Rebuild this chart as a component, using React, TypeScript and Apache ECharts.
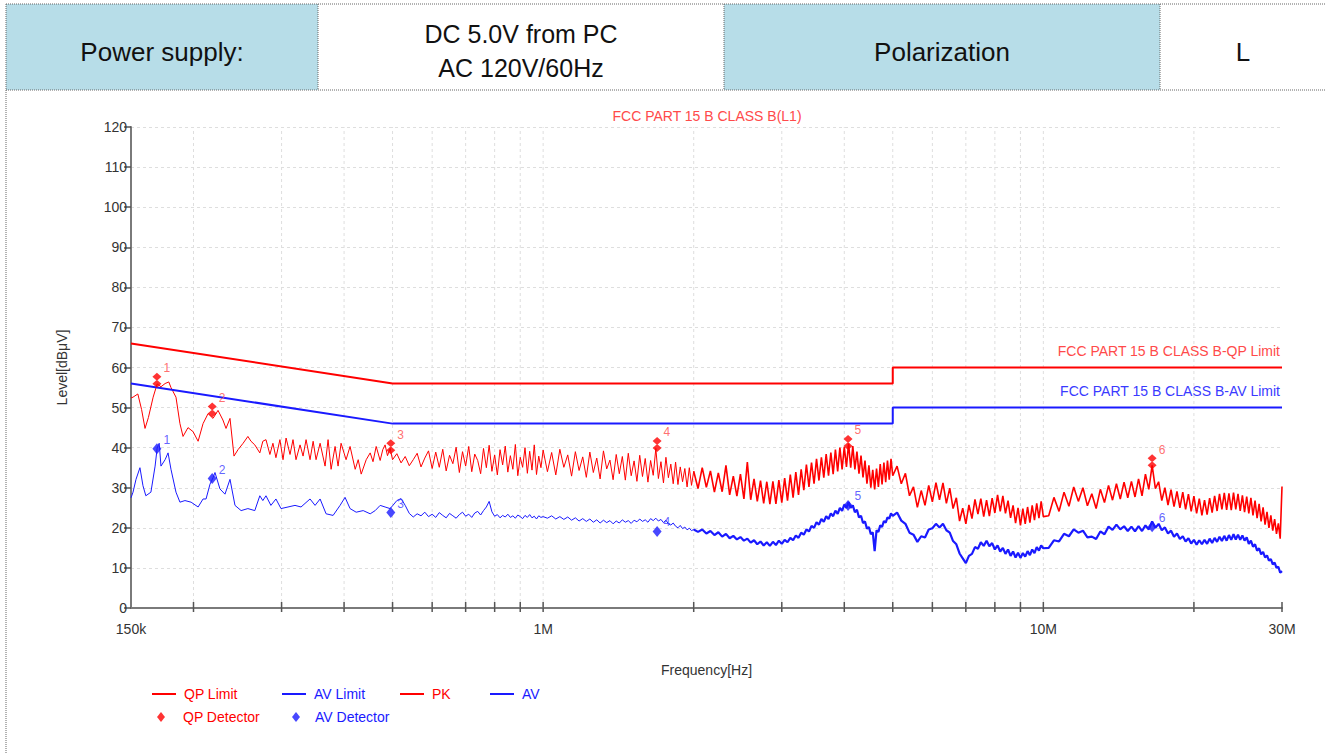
import React, { useEffect, useRef } from 'react';
import * as echarts from 'echarts';

const FONT = '"Liberation Sans", Arial, Helvetica, sans-serif';

// ---------- header table ----------
const tableCells = [
  { x0: 6, x1: 318, fill: '#b7dde8', lines: ['Power supply:'], size: 26 },
  { x0: 318, x1: 724, fill: '#ffffff', lines: ['DC 5.0V from PC', 'AC 120V/60Hz'], size: 25 },
  { x0: 724, x1: 1160, fill: '#b7dde8', lines: ['Polarization'], size: 26 },
  { x0: 1160, x1: 1326, fill: '#ffffff', lines: ['L'], size: 26 },
];

// ---------- axis ----------
const xMinK = 150;
const xMaxK = 30000;
const xLabelMap: [number, string][] = [[150, '150k'], [1000, '1M'], [10000, '10M'], [30000, '30M']];
const xGridK = [200, 300, 400, 500, 600, 700, 800, 900, 1000, 2000, 3000, 4000, 5000, 6000, 7000, 8000, 9000, 10000, 20000];
const xTickK = [200, 300, 400, 500, 600, 700, 800, 900, 1000, 2000, 3000, 4000, 5000, 6000, 7000, 8000, 9000, 10000, 20000, 30000];

// ---------- limits (kHz, dBuV) ----------
const qpLimit: [number, number][] = [[150, 66], [500, 56], [5000, 56], [5000, 60], [30000, 60]];
const avLimit: [number, number][] = [[150, 56], [500, 46], [5000, 46], [5000, 50], [30000, 50]];

// ---------- PK / AV traces, 150k-500k (kHz, dBuV) ----------
const pkLow: [number, number][] = [
  [150, 52.4], [151.4, 52.6], [154.8, 53.4], [157.5, 49.5], [160, 44.8], [162.5, 47.5], [166.1, 52.6], [169.2, 55.9],
  [172.2, 55.2], [175.5, 56.0], [178.5, 56.4], [180.3, 55.0], [184.5, 52.6], [187.9, 46.0], [190.6, 42.8], [195.0, 45.0],
  [199.6, 44.0], [204.3, 41.6], [209.0, 46.0], [213.9, 48.5], [218.8, 47.3], [223.9, 49.3], [229.0, 46.9], [232.3, 44.8],
  [236.6, 47.3], [241.0, 37.9], [245.5, 39.5], [251.3, 41.1], [256.9, 42.8], [260.6, 41.6], [265.2, 40.7], [271.4, 38.7],
  [275.2, 41.6], [279.2, 42.0], [284.3, 38.3], [288.3, 41.1], [292.3, 37.5], [297.7, 42.0], [302.0, 37.0], [306.3, 42.4],
  [311.9, 38.3], [316.2, 42.0], [320.6, 37.0], [326.6, 40.7], [331.2, 37.9], [335.8, 42.0], [342.0, 37.0], [346.9, 41.6],
  [351.6, 37.0], [358.2, 41.1], [366.5, 35.4], [371.6, 42.0], [376.8, 34.6], [383.8, 40.3], [389.1, 35.4], [394.5, 41.1],
  [403.7, 37.0], [411.2, 40.3], [421.0, 34.6], [426.9, 37.0], [432.8, 33.4], [442.9, 37.0], [451.1, 38.7], [457.0, 36.5],
  [463.7, 40.3], [472.3, 36.8], [478.0, 39.5], [483.1, 40.7], [488.5, 38.0], [494.4, 39.8], [500, 37.0],
];
const avLow: [number, number][] = [
  [150, 27.5], [151.4, 28.9], [153.5, 32.1], [156.3, 35.0], [158.5, 30.5], [160.6, 28.0], [164.4, 28.9], [167.6, 35.4],
  [169.2, 39.9], [170.8, 41.1], [172.2, 35.4], [175.5, 37.0], [177.9, 38.7], [180.3, 34.6], [184.5, 28.9], [187.9, 26.4],
  [192.3, 26.8], [197.8, 26.4], [204.3, 25.2], [209.0, 27.2], [211.9, 27.2], [215.8, 30.9], [218.8, 32.5], [220.8, 33.8],
  [225.9, 29.7], [231.2, 28.4], [236.6, 32.1], [242.1, 25.6], [249.0, 24.3], [256.9, 24.8], [265.2, 24.3], [271.4, 28.0],
  [275.2, 26.8], [279.2, 28.0], [285.6, 25.6], [292.3, 27.2], [299.2, 24.8], [309.0, 25.2], [319.1, 25.6], [328.1, 25.2],
  [342.0, 27.2], [350.0, 25.6], [358.2, 27.2], [368.2, 23.5], [380.3, 23.1], [392.7, 25.6], [401.8, 27.6], [411.2, 24.8],
  [422.9, 23.9], [436.8, 24.3], [451.1, 23.5], [461.6, 24.3], [472.3, 25.6], [483.1, 25.2], [494.4, 24.8], [500, 25.5],
];

// ---------- sweep 500k-1M ----------
const freqA = [510, 520, 530, 540, 550, 560, 570, 580, 590, 600, 610, 620, 630, 640, 650, 660, 670, 680, 690, 700,
  710, 720, 730, 740, 750, 760, 770, 780, 790, 800, 810, 820, 830, 840, 850, 860, 870, 880, 890, 900,
  910, 920, 930, 940, 950, 960, 970, 980, 990, 1000];
const pkA = [38.5, 36.2, 37.8, 35.5, 37.0, 38.6, 35.2, 37.4, 39.2, 34.8, 38.9, 35.1, 39.6, 34.2, 38.1, 36.0, 40.1, 33.8, 39.0, 35.4,
  40.3, 34.0, 38.4, 36.8, 33.5, 39.8, 35.0, 40.6, 34.1, 38.2, 33.2, 39.5, 35.7, 40.4, 33.9, 38.0, 34.6, 40.8, 33.0, 37.6,
  35.1, 40.0, 33.6, 39.1, 34.4, 40.7, 33.3, 37.9, 35.0, 39.4];
const avA = [26.8, 27.3, 25.6, 23.6, 22.7, 23.5, 23.0, 23.9, 22.8, 23.4, 22.6, 23.8, 23.1, 22.5, 23.6, 23.0, 22.4, 23.3, 23.9, 22.9,
  23.4, 22.6, 23.7, 24.1, 23.2, 24.3, 25.2, 26.6, 24.0, 22.9, 23.3, 22.5, 23.1, 22.7, 23.4, 22.6, 23.0, 22.4, 23.2, 22.8,
  22.3, 23.1, 22.6, 23.3, 22.5, 22.9, 22.2, 23.0, 22.6, 22.8];

// ---------- sweep 1M-2M ----------
const freqB = [1020, 1040, 1060, 1080, 1100, 1120, 1140, 1160, 1180, 1200, 1220, 1240, 1260, 1280, 1300, 1320, 1340, 1360, 1380, 1400,
  1420, 1440, 1460, 1480, 1500, 1520, 1540, 1560, 1580, 1600, 1620, 1640, 1660, 1680, 1700, 1720, 1740, 1760, 1780, 1800,
  1820, 1840, 1860, 1880, 1900, 1920, 1940, 1960, 1980, 2000];
const pkB = [34.0, 38.8, 33.2, 39.6, 35.1, 38.2, 32.9, 39.0, 34.3, 37.7, 32.6, 38.9, 33.8, 37.4, 32.2, 39.2, 34.7, 36.9, 32.0, 38.3,
  33.5, 37.8, 31.9, 38.6, 33.0, 36.7, 31.6, 38.1, 32.8, 37.3, 31.4, 36.8, 33.1, 39.8, 32.3, 36.5, 31.2, 37.6, 32.5, 35.9,
  31.0, 36.4, 30.8, 35.2, 31.5, 34.8, 30.2, 35.0, 30.6, 34.1];
const avB = [22.4, 23.0, 22.2, 22.8, 22.1, 22.7, 21.9, 22.5, 21.7, 22.3, 21.6, 22.2, 21.4, 22.0, 21.2, 21.9, 21.3, 21.8, 21.0, 21.7,
  21.2, 22.0, 21.4, 21.8, 21.1, 21.9, 21.5, 22.2, 21.6, 22.0, 21.4, 22.3, 21.8, 22.4, 21.7, 22.1, 21.3, 21.9, 21.0, 20.7,
  21.2, 20.4, 20.0, 20.6, 19.8, 20.2, 19.5, 19.9, 19.3, 19.6];

// ---------- sweep 2M-5M ----------
const freqC = [2040, 2080, 2120, 2160, 2200, 2240, 2280, 2320, 2360, 2400, 2440, 2480, 2520, 2560, 2600, 2640, 2680, 2720, 2760, 2800,
  2840, 2880, 2920, 2960, 3000, 3040, 3080, 3120, 3160, 3200, 3240, 3280, 3320, 3360, 3400, 3440, 3480, 3520, 3560, 3600,
  3640, 3680, 3720, 3760, 3800, 3840, 3880, 3920, 3960, 4000, 4040, 4080, 4120, 4160, 4200, 4240, 4280, 4320, 4360, 4400,
  4440, 4480, 4520, 4560, 4600, 4640, 4680, 4720, 4760, 4800, 4840, 4880, 4920, 4960, 5000];
const pkC = [29.8, 35.0, 30.1, 34.2, 28.9, 33.7, 29.0, 35.6, 28.2, 32.9, 27.9, 33.4, 27.2, 36.4, 27.0, 32.2, 26.6, 31.8, 26.1, 31.5,
  25.9, 31.6, 26.0, 31.9, 26.3, 32.4, 26.8, 33.3, 27.5, 33.9, 28.2, 34.6, 29.4, 35.8, 30.2, 36.3, 31.0, 37.2, 31.8, 37.6,
  32.5, 38.4, 33.0, 38.8, 33.4, 39.5, 34.1, 40.0, 34.6, 40.2, 35.2, 41.0, 35.0, 40.4, 34.6, 39.0, 33.5, 38.0, 32.6, 36.8,
  31.0, 35.6, 30.0, 34.5, 29.6, 34.8, 30.2, 35.9, 30.8, 36.3, 31.4, 36.8, 32.0, 37.2, 33.0];
const avC = [19.0, 19.6, 18.6, 19.2, 18.2, 18.9, 17.8, 18.5, 17.4, 18.0, 17.1, 17.7, 16.8, 17.3, 16.3, 16.9, 15.9, 16.6, 15.6, 16.4,
  15.5, 16.5, 15.7, 16.8, 16.0, 17.0, 16.4, 17.5, 16.9, 18.1, 17.5, 18.8, 18.3, 19.6, 19.1, 20.5, 20.0, 21.4, 20.8, 22.2,
  21.5, 22.9, 22.2, 23.6, 22.9, 24.3, 23.5, 25.0, 24.2, 25.8, 25.0, 26.4, 25.0, 25.6, 23.9, 24.5, 22.6, 23.0, 21.2, 21.6,
  19.8, 20.2, 18.4, 18.9, 14.2, 19.4, 19.0, 20.6, 20.2, 21.7, 21.3, 22.6, 22.3, 23.6, 23.0];

// ---------- sweep 5M-10M ----------
const freqD = [5100, 5200, 5300, 5400, 5500, 5600, 5700, 5800, 5900, 6000, 6100, 6200, 6300, 6400, 6500, 6600, 6700, 6800, 6900, 7000,
  7100, 7200, 7300, 7400, 7500, 7600, 7700, 7800, 7900, 8000, 8100, 8200, 8300, 8400, 8500, 8600, 8700, 8800, 8900, 9000,
  9100, 9200, 9300, 9400, 9500, 9600, 9700, 9800, 9900, 10000];
const pkD = [35.4, 31.0, 33.6, 28.0, 30.2, 25.1, 29.3, 25.6, 30.6, 26.5, 31.3, 27.0, 31.2, 26.1, 29.9, 24.8, 27.5, 21.7, 24.9, 21.0,
  25.7, 22.3, 27.1, 23.4, 27.3, 22.8, 26.9, 22.9, 27.4, 23.7, 28.2, 24.1, 28.0, 23.6, 26.8, 22.5, 25.6, 21.2, 25.0, 20.6,
  24.8, 21.0, 25.2, 21.3, 25.6, 21.9, 26.1, 22.4, 26.6, 22.8];
const avD = [23.8, 21.8, 21.0, 18.8, 18.3, 16.5, 17.9, 17.6, 19.6, 19.9, 21.0, 20.1, 21.0, 19.4, 18.8, 16.7, 15.9, 13.6, 12.4, 11.2,
  13.0, 13.5, 15.2, 14.8, 16.4, 15.5, 16.8, 15.4, 16.2, 14.6, 15.6, 14.1, 15.0, 13.5, 14.6, 13.0, 14.1, 12.6, 13.8, 12.5,
  13.7, 12.8, 14.2, 13.2, 14.6, 13.7, 15.2, 14.3, 15.6, 14.9];

// ---------- sweep 10M-30M ----------
const freqE = [10250, 10500, 10750, 11000, 11250, 11500, 11750, 12000, 12250, 12500, 12750, 13000, 13250, 13500, 13750, 14000,
  14250, 14500, 14750, 15000, 15250, 15500, 15750, 16000, 16250, 16500, 16750, 17000, 17250, 17500, 17750, 18000,
  18250, 18500, 18750, 19000, 19250, 19500, 19750, 20000, 20250, 20500, 20750, 21000, 21250, 21500, 21750, 22000,
  22250, 22500, 22750, 23000, 23250, 23500, 23750, 24000, 24250, 24500, 24750, 25000, 25250, 25500, 25750, 26000,
  26250, 26500, 26750, 27000, 27250, 27500, 27750, 28000, 28250, 28500, 28750, 29000, 29250, 29500, 29750, 30000];
const pkE = [23.0, 27.6, 24.1, 28.9, 25.4, 30.2, 26.6, 30.0, 25.5, 28.5, 24.8, 29.6, 26.3, 30.6, 26.9, 31.0,
  27.2, 31.4, 27.5, 31.6, 27.7, 32.2, 28.0, 33.4, 29.6, 35.6, 29.8, 31.5, 26.8, 30.0, 25.7, 29.5,
  25.3, 29.1, 25.0, 28.9, 24.6, 28.4, 24.1, 27.9, 23.6, 27.3, 23.1, 26.9, 23.3, 27.4, 23.8, 28.0,
  24.2, 28.5, 24.6, 28.7, 24.5, 28.6, 24.4, 28.8, 24.6, 28.5, 24.2, 28.1, 23.9, 27.8, 23.6, 27.5,
  23.1, 26.8, 22.4, 26.0, 21.6, 25.1, 20.8, 24.0, 20.0, 23.1, 19.3, 22.2, 18.5, 21.1, 17.3, 30.3];
const avE = [15.0, 16.9, 16.6, 18.5, 17.9, 19.6, 18.8, 19.3, 17.6, 17.8, 17.2, 19.1, 18.4, 20.3, 19.5, 20.8,
  19.6, 20.4, 19.2, 20.3, 19.1, 20.4, 19.2, 20.6, 19.6, 21.6, 20.0, 21.0, 19.4, 20.1, 18.6, 19.3,
  17.8, 18.6, 17.2, 17.9, 16.6, 17.4, 16.1, 17.0, 15.8, 16.9, 15.9, 17.0, 16.0, 17.3, 16.2, 17.5,
  16.5, 17.8, 16.7, 18.0, 16.8, 18.2, 17.0, 18.4, 17.1, 18.3, 17.0, 18.1, 16.8, 17.6, 16.0, 16.8,
  15.3, 15.9, 14.3, 14.9, 13.4, 14.0, 12.6, 13.1, 11.8, 12.2, 10.9, 11.3, 10.0, 10.3, 8.8, 9.2];

// ---------- final detector readings ----------
const markerNames = ['1', '2', '3', '4', '5', '6'];
const markerFreqK = [169, 218, 496, 1690, 4070, 16500];
const qpReadings = [56.8, 49.4, 40.2, 40.8, 41.3, 36.5];
const avReadings = [39.7, 32.3, 23.8, 19.1, 25.6, 20.3];

const zip = (f: number[], v: number[]) => f.map((x, i) => [x, v[i]]);

// lower part of the sweep (thin trace) and upper part (dense band, drawn slightly heavier)
const pkDataLow = [...pkLow, ...zip(freqA, pkA), ...zip(freqB, pkB)];
const pkDataHigh = [[2000, pkB[pkB.length - 1]], ...zip(freqC, pkC), ...zip(freqD, pkD), ...zip(freqE, pkE)];
const avDataLow = [...avLow, ...zip(freqA, avA), ...zip(freqB, avB)];
const avDataHigh = [[2000, avB[avB.length - 1]], ...zip(freqC, avC), ...zip(freqD, avD), ...zip(freqE, avE)];

const RED = '#ff0000';
const BLUE = '#1a1aff';
const LABEL_RED = '#ff4a4a';
const LABEL_BLUE = '#3a3aff';

function buildOption() {
  const graphic: any[] = [];
  // table cells
  tableCells.forEach((c) => {
    graphic.push({
      type: 'rect', silent: true, z: 0,
      shape: { x: c.x0, y: 4, width: c.x1 - c.x0, height: 86 },
      style: { fill: c.fill },
    });
    const cx = (c.x0 + c.x1) / 2;
    const ys = c.lines.length === 1 ? [52] : [34, 68];
    c.lines.forEach((t, i) => {
      graphic.push({
        type: 'text', silent: true, z: 2, x: cx, y: ys[i],
        style: {
          text: t, fill: '#111', fontSize: c.size, fontFamily: FONT,
          align: 'center', verticalAlign: 'middle', textAlign: 'center', textVerticalAlign: 'middle',
        },
      });
    });
  });
  const dotted = { stroke: '#666', lineWidth: 1, lineDash: [1, 1] };
  graphic.push({ type: 'line', silent: true, z: 3, shape: { x1: 6, y1: 4, x2: 1326, y2: 4 }, style: dotted });
  graphic.push({ type: 'line', silent: true, z: 3, shape: { x1: 6, y1: 90, x2: 1326, y2: 90 }, style: dotted });
  graphic.push({ type: 'line', silent: true, z: 3, shape: { x1: 6, y1: 4, x2: 6, y2: 753 }, style: dotted });
  [318, 724, 1160].forEach((x) =>
    graphic.push({ type: 'line', silent: true, z: 3, shape: { x1: x, y1: 4, x2: x, y2: 90 }, style: dotted })
  );
  // chart title and limit labels
  graphic.push({
    type: 'text', silent: true, x: 707, y: 116,
    style: { text: 'FCC PART 15 B CLASS B(L1)', fill: LABEL_RED, fontSize: 14, fontFamily: FONT,
      align: 'center', verticalAlign: 'middle', textAlign: 'center', textVerticalAlign: 'middle' },
  });
  graphic.push({
    type: 'text', silent: true, x: 1280, y: 351,
    style: { text: 'FCC PART 15 B CLASS B-QP Limit', fill: LABEL_RED, fontSize: 14, fontFamily: FONT,
      align: 'right', verticalAlign: 'middle', textAlign: 'right', textVerticalAlign: 'middle' },
  });
  graphic.push({
    type: 'text', silent: true, x: 1280, y: 391,
    style: { text: 'FCC PART 15 B CLASS B-AV Limit', fill: LABEL_BLUE, fontSize: 14, fontFamily: FONT,
      align: 'right', verticalAlign: 'middle', textAlign: 'right', textVerticalAlign: 'middle' },
  });

  const lineLegend = (name: string, left: number, color: string) => ({
    data: [{ name, icon: 'rect' }], left, top: 687, padding: 0, itemWidth: 24, itemHeight: 2, itemGap: 0,
    selectedMode: false,
    itemStyle: { color },
    textStyle: { color, fontSize: 14, fontFamily: FONT, padding: [0, 0, 0, 3] },
  });
  const dotLegend = (name: string, left: number, color: string, pad: number) => ({
    data: [{ name, icon: 'diamond' }], left, top: 710, padding: 0, itemWidth: 8, itemHeight: 10, itemGap: 0,
    selectedMode: false,
    itemStyle: { color },
    textStyle: { color, fontSize: 14, fontFamily: FONT, padding: [0, 0, 0, pad] },
  });

  const trace = (name: string, data: any[], color: string, width: number) => ({
    name, type: 'line', data, showSymbol: false, symbol: 'none', z: 3,
    lineStyle: { color, width }, itemStyle: { color },
  });

  return {
    animation: false,
    backgroundColor: '#ffffff',
    textStyle: { fontFamily: FONT },
    graphic,
    legend: [
      lineLegend('QP Limit', 152, RED),
      lineLegend('AV Limit', 282, BLUE),
      lineLegend('PK', 400, RED),
      lineLegend('AV', 490, BLUE),
      dotLegend('QP Detector', 157, RED, 13),
      dotLegend('AV Detector', 292, BLUE, 10),
    ],
    grid: { left: 131, right: 44, top: 127, bottom: 145, containLabel: false },
    xAxis: {
      type: 'log', logBase: 10, min: xMinK, max: xMaxK,
      name: 'Frequency[Hz]', nameLocation: 'middle', nameGap: 55,
      nameTextStyle: { color: '#333', fontSize: 14, fontFamily: FONT },
      axisLine: { show: true, lineStyle: { color: '#7a7a7a', width: 2 } },
      axisTick: { show: false },
      splitLine: { show: false },
      minorTick: { show: false },
      axisLabel: {
        show: true, color: '#333', fontSize: 14, fontFamily: FONT, margin: 14,
        showMinLabel: true, showMaxLabel: true,
        formatter: (v: number) => {
          for (const [k, s] of xLabelMap) if (Math.abs(v - k) / k < 0.001) return s;
          return '';
        },
      },
    },
    yAxis: {
      type: 'value', min: 0, max: 120, interval: 10,
      name: 'Level[dBμV]', nameLocation: 'middle', nameGap: 62, nameRotate: 90,
      nameTextStyle: { color: '#333', fontSize: 14, fontFamily: FONT },
      axisLine: { show: true, lineStyle: { color: '#7a7a7a', width: 2 } },
      axisTick: { show: true, length: 7, lineStyle: { color: '#555', width: 1.5 } },
      axisLabel: { color: '#333', fontSize: 14, fontFamily: FONT, margin: 4 },
      splitLine: { show: true, lineStyle: { color: '#dedede', type: [3, 3], width: 1 } },
    },
    series: [
      {
        name: 'xgrid', type: 'custom', silent: true, z: 1,
        data: xTickK.map((f) => [f, 0]),
        encode: { x: 0, y: 1 },
        renderItem: (params: any, api: any) => {
          const f = api.value(0);
          const p0 = api.coord([f, 0]);
          const p1 = api.coord([f, 120]);
          const children: any[] = [];
          if (xGridK.indexOf(f) >= 0) {
            children.push({
              type: 'line', shape: { x1: p0[0], y1: p0[1], x2: p1[0], y2: p1[1] },
              style: { stroke: '#dedede', lineWidth: 1, lineDash: [3, 3] },
            });
          }
          children.push({
            type: 'line', shape: { x1: p0[0], y1: p0[1] - 6, x2: p0[0], y2: p0[1] + 4 },
            style: { stroke: '#555', lineWidth: 1.5 },
          });
          return { type: 'group', children };
        },
      },
      trace('PK', pkDataLow, RED, 1),
      trace('PK', pkDataHigh, RED, 1.6),
      trace('AV', avDataLow, BLUE, 1),
      trace('AV', avDataHigh, BLUE, 2.2),
      {
        name: 'QP Limit', type: 'line', data: qpLimit, showSymbol: false, symbol: 'none', z: 4,
        lineStyle: { color: RED, width: 2 }, itemStyle: { color: RED },
      },
      {
        name: 'AV Limit', type: 'line', data: avLimit, showSymbol: false, symbol: 'none', z: 4,
        lineStyle: { color: BLUE, width: 2 }, itemStyle: { color: BLUE },
      },
      {
        name: 'QP Detector', type: 'scatter', z: 5,
        symbol: 'path://M4,0 L8,4 L4,8 L0,4 Z M4,7 L8,11 L4,15 L0,11 Z',
        symbolSize: [9, 15],
        itemStyle: { color: RED },
        data: markerFreqK.map((f, i) => ({ name: markerNames[i], value: [f, qpReadings[i]] })),
        label: {
          show: true, formatter: '{b}', position: 'right', distance: 2, offset: [0, -12],
          color: LABEL_RED, fontSize: 12, fontFamily: FONT,
        },
      },
      {
        name: 'AV Detector', type: 'scatter', z: 5,
        symbol: 'diamond', symbolSize: [9, 11],
        itemStyle: { color: BLUE },
        data: markerFreqK.map((f, i) => ({ name: markerNames[i], value: [f, avReadings[i]] })),
        label: {
          show: true, formatter: '{b}', position: 'right', distance: 2, offset: [0, -9],
          color: LABEL_BLUE, fontSize: 12, fontFamily: FONT,
        },
      },
    ],
  };
}

export default function App() {
  const ref = useRef<HTMLDivElement>(null);
  useEffect(() => {
    if (!ref.current) return;
    const chart = echarts.init(ref.current, null, { renderer: 'svg' });
    chart.setOption(buildOption() as any);
    return () => chart.dispose();
  }, []);
  return (
    <div
      ref={ref}
      style={{ position: 'fixed', left: 0, top: 0, width: 1326, height: 753, background: '#ffffff' }}
    />
  );
}
